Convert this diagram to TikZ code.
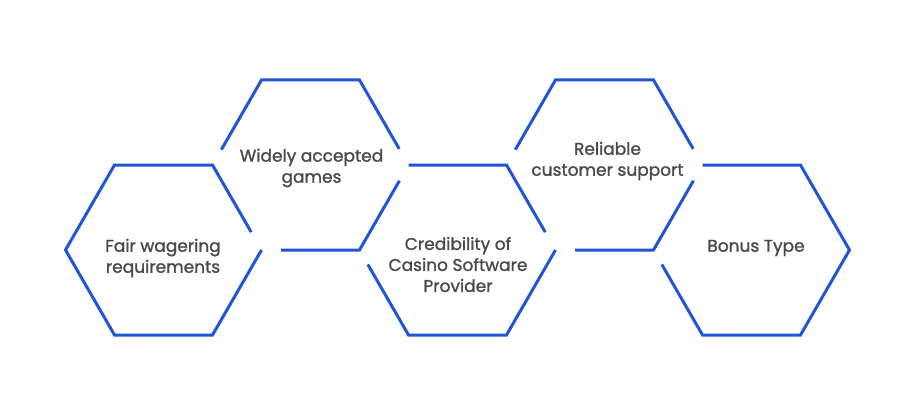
\documentclass[tikz,border=0pt]{standalone}
\usepackage{fontspec}
\setmainfont{Poppins}
\newfontfamily\hexfont{Poppins}[FakeBold=1.3]
\usetikzlibrary{calc}
\definecolor{hexblue}{HTML}{1F55D6}
\definecolor{txtgray}{HTML}{4A4A4A}
\newcommand\hexpts[3]{%
  \coordinate (#1-r)  at ({#2+98},{#3});
  \coordinate (#1-tr) at ({#2+49},{#3-85});
  \coordinate (#1-tl) at ({#2-49},{#3-85});
  \coordinate (#1-l)  at ({#2-98},{#3});
  \coordinate (#1-bl) at ({#2-49},{#3+85});
  \coordinate (#1-br) at ({#2+49},{#3+85});
}
\begin{document}
\begin{tikzpicture}[x=1pt,y=-1pt,
  hexline/.style={draw=hexblue,line width=3pt,line join=miter},
  label/.style={text=txtgray,align=center,font=\hexfont\fontsize{17}{21}\selectfont,inner sep=0pt}]
\useasboundingbox[fill=white] (0,0) rectangle (914,420);
\hexpts{h1}{163.5}{250}
\hexpts{h2}{310.5}{165}
\hexpts{h3}{457.5}{250}
\hexpts{h4}{604.5}{165}
\hexpts{h5}{751.5}{250}
% hexagon 1
\draw[hexline] (h1-r) -- (h1-br) -- (h1-bl) -- (h1-l) -- (h1-tl) -- (h1-tr) -- ($(h1-tr)!0.79!(h1-r)$);
% hexagon 2
\draw[hexline] ($(h2-l)!0.18!(h2-tl)$) -- (h2-tl) -- (h2-tr) -- ($(h2-tr)!0.81!(h2-r)$);
\draw[hexline] ($(h2-r)!0.185!(h2-br)$) -- (h2-br) -- ($(h2-br)!0.8!(h2-bl)$);
% hexagon 3
\draw[hexline] (h3-tl) -- (h3-tr) -- ($(h3-tr)!0.79!(h3-r)$);
\draw[hexline] (h3-r) -- (h3-br) -- (h3-bl) -- ($(h3-bl)!0.83!(h3-l)$);
% hexagon 4
\draw[hexline] ($(h4-l)!0.18!(h4-tl)$) -- (h4-tl) -- (h4-tr) -- ($(h4-tr)!0.81!(h4-r)$);
\draw[hexline] ($(h4-r)!0.185!(h4-br)$) -- (h4-br) -- ($(h4-br)!0.8!(h4-bl)$);
% hexagon 5
\draw[hexline] (h5-tl) -- (h5-tr) -- (h5-r) -- (h5-br) -- (h5-bl) -- ($(h5-bl)!0.83!(h5-l)$);
% labels
\node[label] (t1) at (163,258) {Fair wagering\\requirements};
\node[label] (t2) at (311.5,168) {Widely accepted\\games};
\node[label] (t3) at (458,264.5) {Credibility of\\Casino Software\\Provider};
\node[label] (t4) at (607.5,161) {Reliable\\customer support};
\node[label] (t5) at (756,248) {Bonus Type};
\end{tikzpicture}
\end{document}
